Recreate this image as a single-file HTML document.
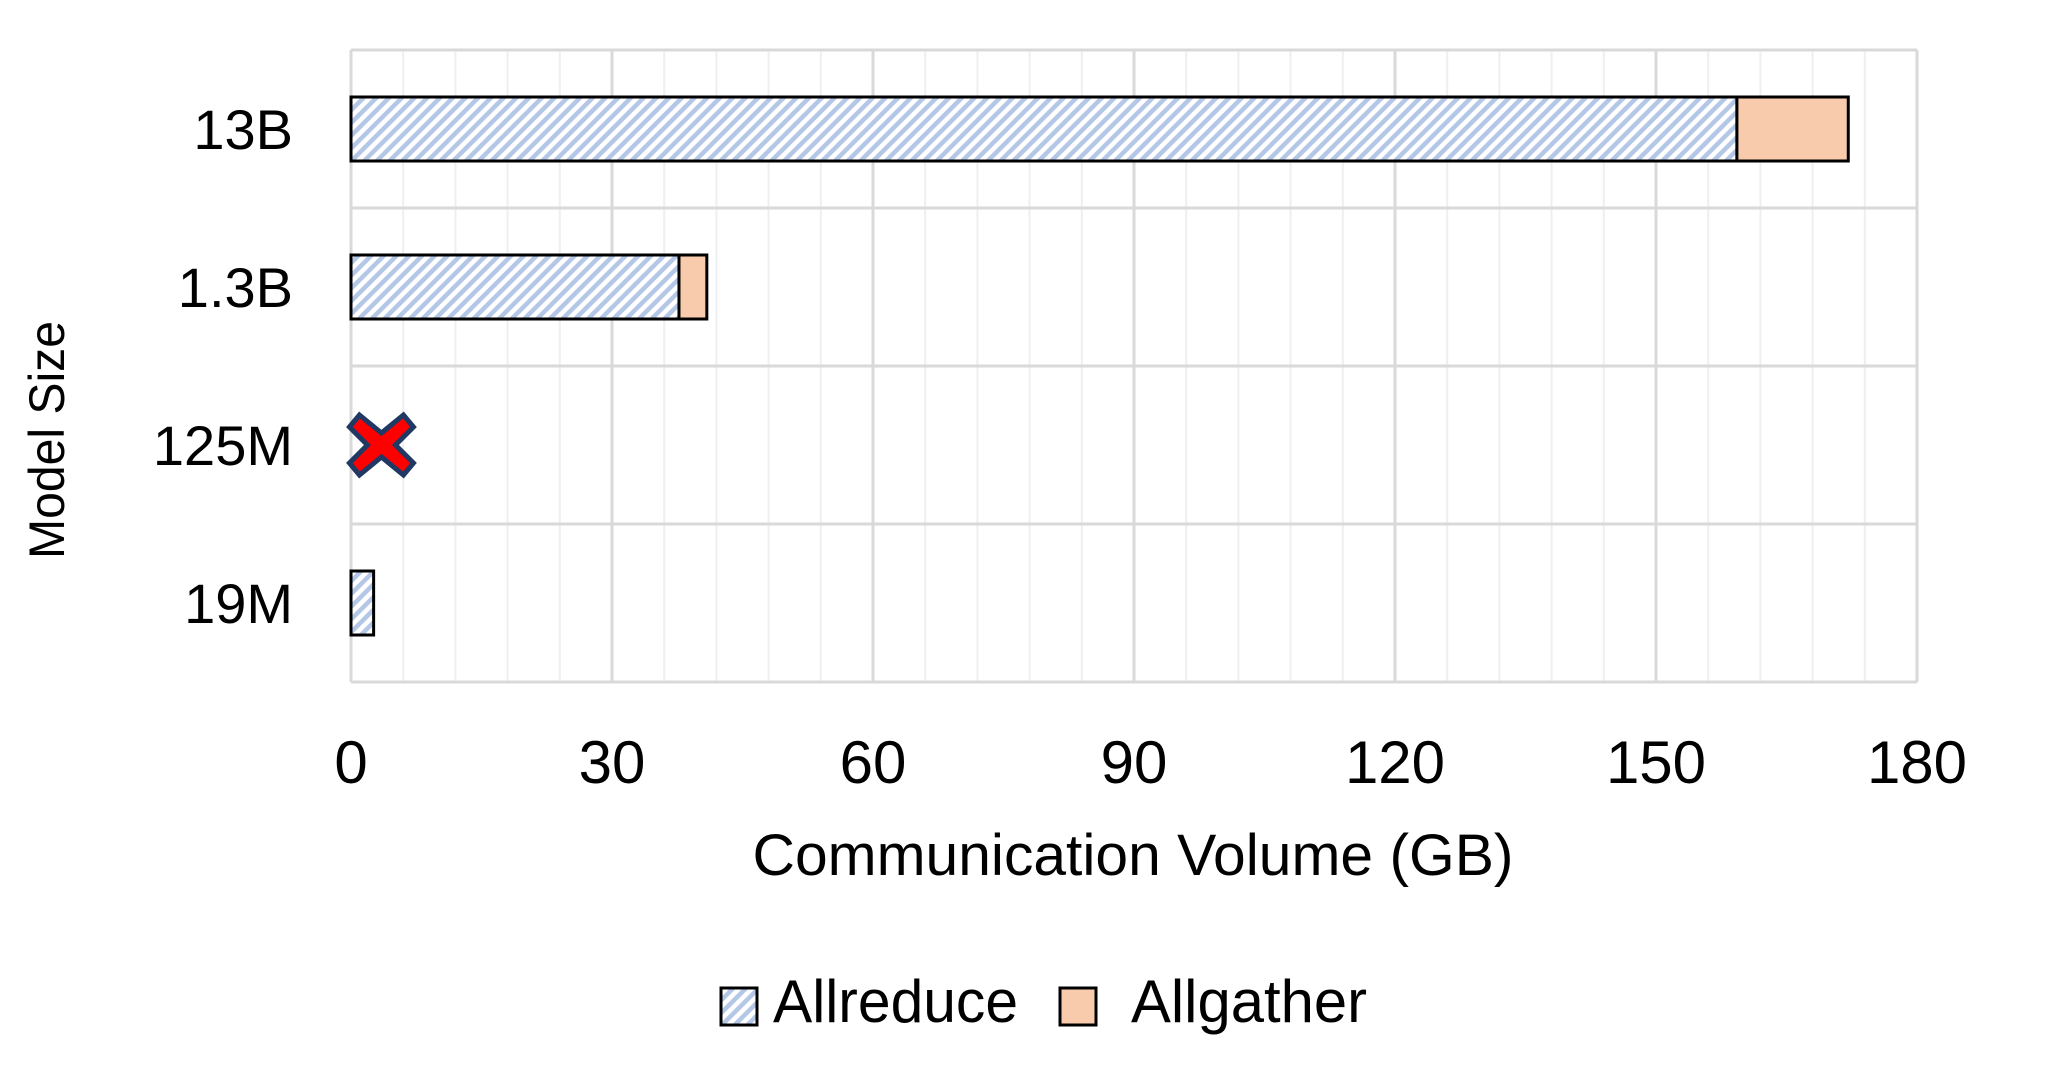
<!DOCTYPE html>
<html><head><meta charset="utf-8"><style>
html,body{margin:0;padding:0;background:#fff;}
svg text{font-family:"Liberation Sans",sans-serif;fill:#000;}
</style></head><body>
<svg id="chart" width="2065" height="1083" xmlns="http://www.w3.org/2000/svg">
<defs>
<pattern id="hatch" patternUnits="userSpaceOnUse" width="9" height="9" patternTransform="rotate(45)">
<rect width="9" height="9" fill="#ffffff"/>
<rect width="4.5" height="9" fill="#b4c7e7"/>
</pattern>
</defs>
<g id="grid"></g>
<g id="bars"></g>
<g id="labels"></g>
<text x="1133" y="875" font-size="58" text-anchor="middle" textLength="761" lengthAdjust="spacingAndGlyphs">Communication Volume (GB)</text>
<text transform="translate(64,440) rotate(-90)" font-size="50" text-anchor="middle" textLength="238" lengthAdjust="spacingAndGlyphs">Model Size</text>
<g>
<rect x="721" y="988" width="36" height="37" fill="url(#hatch)" stroke="#000" stroke-width="3"/>
<text x="773" y="1022" font-size="60" textLength="245" lengthAdjust="spacingAndGlyphs">Allreduce</text>
<rect x="1060" y="988" width="36" height="37" fill="#f8cbad" stroke="#000" stroke-width="3"/>
<text x="1131" y="1022" font-size="60" textLength="236" lengthAdjust="spacingAndGlyphs">Allgather</text>
</g>
</svg>
<script>
const categories = ["13B", "1.3B", "125M", "19M"];
const allreduce = [159.3, 37.7, null, 2.6];
const allgather = [12.8, 3.2, null, 0];
const xTicks = [0, 30, 60, 90, 120, 150, 180];
const failedMarker = [null, null, 3.5, null];

const NS = "http://www.w3.org/2000/svg";
const L = 351, R = 1917, T = 50, B = 682, XMAX = 180;
const bandH = (B - T) / categories.length;
const barH = 64;
function xs(v){ return L + v / XMAX * (R - L); }
function yc(i){ return T + bandH * (i + 0.5); }
function mk(tag, attrs, parent){
  const e = document.createElementNS(NS, tag);
  for (const k in attrs) e.setAttribute(k, attrs[k]);
  parent.appendChild(e); return e;
}
const grid = document.getElementById('grid');
const bars = document.getElementById('bars');
const labels = document.getElementById('labels');

for (let v = 6; v < XMAX; v += 6) {
  if (v % 30 === 0) continue;
  const l = mk('line', {x1: xs(v), x2: xs(v), y1: T, y2: B, stroke: '#efefef', 'stroke-width': 2}, grid);
  
  
}
xTicks.forEach(v => {
  const l = mk('line', {x1: xs(v), x2: xs(v), y1: T, y2: B, stroke: '#d9d9d9', 'stroke-width': 3}, grid);
  
  
  const t = mk('text', {x: xs(v), y: 783, 'font-size': 60, 'text-anchor': 'middle'}, labels);
  t.textContent = v;
  
  
});
for (let i = 0; i <= categories.length; i++) {
  const y = T + bandH * i;
  const l = mk('line', {x1: L, x2: R, y1: y, y2: y, stroke: '#d9d9d9', 'stroke-width': 3}, grid);
  
  
}
categories.forEach((c, i) => {
  const t = mk('text', {x: 293, y: yc(i) + 20, 'font-size': 56, 'text-anchor': 'end'}, labels);
  t.textContent = c;
  
  
  const y0 = yc(i) - barH / 2;
  if (allreduce[i] != null) {
    const r = mk('rect', {x: xs(0), y: y0, width: xs(allreduce[i]) - xs(0), height: barH, fill: 'url(#hatch)', stroke: '#000', 'stroke-width': 3}, bars);
    
    
    if (allgather[i] > 0) {
      const g = mk('rect', {x: xs(allreduce[i]), y: y0, width: xs(allreduce[i] + allgather[i]) - xs(allreduce[i]), height: barH, fill: '#f8cbad', stroke: '#000', 'stroke-width': 3}, bars);
      
      
    }
  }
  if (failedMarker[i] != null) {
    const cx = xs(failedMarker[i]), cy = yc(i);
    const p = mk('path', {d: 'M-22,-30 L0,-12 L22,-30 L32,-18 L14,0 L32,18 L22,30 L0,12 L-22,30 L-32,18 L-14,0 L-32,-18 Z', transform: 'translate(' + cx + ',' + cy + ')', fill: '#ff0000', stroke: '#1f3864', 'stroke-width': 5, 'stroke-linejoin': 'miter'}, bars);
    
    
  }
});
</script>
</body></html>
